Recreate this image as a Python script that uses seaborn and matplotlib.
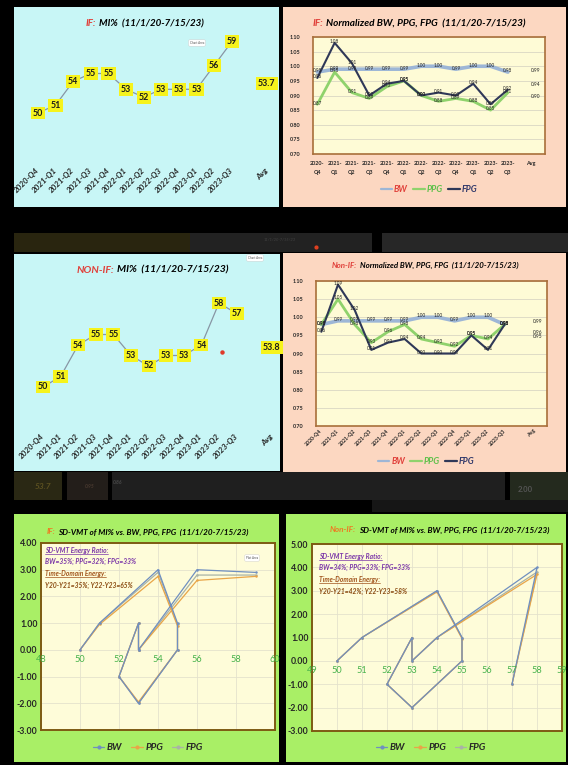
import numpy as np
import matplotlib
matplotlib.use('Agg')
import matplotlib.pyplot as plt
import seaborn as sns
from matplotlib.patches import Rectangle
from matplotlib.lines import Line2D

# ---------------- data ----------------
quarters = ['2020-Q4', '2021-Q1', '2021-Q2', '2021-Q3', '2021-Q4', '2022-Q1',
            '2022-Q2', '2022-Q3', '2022-Q4', '2023-Q1', '2023-Q2', '2023-Q3']
quarters_2line = [q.replace('-', '-\n') for q in quarters]

if_mi = [50, 51, 54, 55, 55, 53, 52, 53, 53, 53, 56, 59]
if_mi_avg = 53.7
nonif_mi = [50, 51, 54, 55, 55, 53, 52, 53, 53, 54, 58, 57]
nonif_mi_avg = 53.8

if_bw = [0.98, 0.99, 0.99, 0.99, 0.99, 0.99, 1.00, 1.00, 0.99, 1.00, 1.00, 0.98]
if_ppg = [0.87, 0.98, 0.91, 0.89, 0.93, 0.95, 0.90, 0.88, 0.89, 0.88, 0.85, 0.91]
if_fpg = [0.96, 1.08, 1.01, 0.90, 0.94, 0.95, 0.90, 0.91, 0.90, 0.94, 0.87, 0.92]
if_avg = [0.99, 0.90, 0.94]          # BW, PPG, FPG

nonif_bw = [0.98, 0.99, 0.99, 0.99, 0.99, 0.99, 1.00, 1.00, 0.99, 1.00, 1.00, 0.98]
nonif_ppg = [0.98, 1.05, 0.98, 0.93, 0.96, 0.98, 0.94, 0.93, 0.92, 0.95, 0.94, 0.98]
nonif_fpg = [0.96, 1.09, 1.02, 0.91, 0.93, 0.94, 0.90, 0.90, 0.90, 0.95, 0.91, 0.98]
nonif_avg = [0.99, 0.96, 0.95]

if_sd_bw = [0, 1, 3.0, 1.0, 0, -2, -1, 1, 0, 0, 3.0, 2.9]
if_sd_ppg = [0, 0.95, 2.75, 0.9, 0, -1.95, -1, 1, 0, 0, 2.6, 2.75]
if_sd_fpg = [0, 1, 2.9, 0.95, 0, -2, -1, 1, 0, 0, 2.8, 2.8]

nonif_sd_bw = [0, 1, 3.0, 1.0, 0, -2, -1, 1, 0, 1, 4.0, -1]
nonif_sd_ppg = [0, 1, 2.95, 0.95, 0, -2, -1, 1, 0, 1, 3.7, -1]
nonif_sd_fpg = [0, 1, 3.0, 1.0, 0, -2, -1, 1, 0, 1, 3.8, -1]

if_energy = ['BW=35%; PPG=32%; FPG=33%', 'Y20-Y21=35%; Y22-Y23=65%']
nonif_energy = ['BW=34%; PPG=33%; FPG=33%', 'Y20-Y21=42%; Y22-Y23=58%']

# ---------------- setup ----------------
sns.set_style('white')
FONT = ['Lato', 'DejaVu Sans']
plt.rcParams['font.family'] = FONT

W, H = 568, 765
fig = plt.figure(figsize=(W / 100, H / 100), dpi=100)
fig.patch.set_facecolor('black')


def fx(x):
    return x / W


def fy(y):
    return 1 - y / H


def axpx(x0, y0, x1, y1):
    return fig.add_axes([x0 / W, 1 - y1 / H, (x1 - x0) / W, (y1 - y0) / H])


def rect(x0, y0, x1, y1, color, z=-5):
    fig.add_artist(Rectangle((fx(x0), fy(y1)), (x1 - x0) / W, (y1 - y0) / H,
                             transform=fig.transFigure, facecolor=color,
                             edgecolor='none', zorder=z))


def ftext(x, y, s, **kw):
    kw.setdefault('fontweight', 'bold')
    kw.setdefault('fontstyle', 'italic')
    return fig.text(fx(x), fy(y), s, **kw)


CYAN = '#c8f6f6'
PEACH = '#fcd7c1'
GREEN = '#a9ef66'
CREAM = '#fefbd6'
RED = '#e0403a'
ORANGE = '#ee7a22'

# dark spreadsheet strips between panels
rect(14, 233, 190, 252, '#29250f')
rect(190, 233, 372, 252, '#222222')
rect(382, 233, 568, 252, '#272727')
rect(14, 472, 62, 500, '#2a2814')
rect(67, 472, 108, 500, '#231e1a')
rect(112, 472, 505, 500, '#1f1f1f')
rect(510, 472, 568, 500, '#242a1e')
rect(372, 500, 568, 512, '#161616')
ftext(43, 487, '53.7', color='#5b5020', fontsize=6, ha='center', va='center')
ftext(90, 487, '0.95', color='#4a3a30', fontsize=3.5, ha='center', va='center')
ftext(118, 482, '0.86', color='#4a4a4a', fontsize=3.5, ha='center', va='center')
ftext(525, 490, '2.00', color='#555555', fontsize=5.5, ha='center', va='center',
      fontstyle='normal')
ftext(280, 240, '11/1/20-7/15/23', color='#3a3a3a', fontsize=3, ha='center', va='center')
fig.add_artist(Line2D([fx(316)], [fy(247)], marker='o', markersize=2,
                      color='#e04020', transform=fig.transFigure))

# panel backgrounds
rect(14, 7, 279, 207, CYAN)
rect(283, 7, 566, 207, PEACH)
rect(14, 254, 280, 471, CYAN)
rect(283, 253, 566, 472, PEACH)
rect(14, 514, 279, 762, GREEN)
rect(286, 514, 566, 762, GREEN)


def title(xsplit, y, head, rest, headcolor, size):
    ftext(xsplit, y, head, color=headcolor, ha='right', va='center', fontsize=size)
    ftext(xsplit + 3, y, rest, color='black', ha='left', va='center', fontsize=size)


title(96, 24, 'IF:', 'MI%  (11/1/20-7/15/23)', RED, 7.0)
title(323, 24, 'IF:', 'Normalized BW, PPG, FPG  (11/1/20-7/15/23)', RED, 7.2)
title(114, 270, 'NON-IF:', 'MI%  (11/1/20-7/15/23)', RED, 7.5)
title(357, 265, 'Non-IF:', 'Normalized BW, PPG, FPG  (11/1/20-7/15/23)', RED, 5.7)
title(55, 532, 'IF:', 'SD-VMT of MI% vs. BW, PPG, FPG  (11/1/20-7/15/23)', ORANGE, 5.9)
title(356, 530, 'Non-IF:', 'SD-VMT of MI% vs. BW, PPG, FPG  (11/1/20-7/15/23)', ORANGE, 5.9)

# "Chart Area"/"Plot Area" tooltips
for (x, y, s) in [(197, 43, 'Chart Area'), (255, 258, 'Chart Area'), (252, 558, 'Plot Area')]:
    fig.text(fx(x), fy(y), s, fontsize=2.2, color='#555555', ha='center', va='center',
             fontstyle='normal', fontweight='normal',
             bbox=dict(boxstyle='round,pad=0.4', fc='white', ec='#cccccc', lw=0.3))

YELLOW = dict(boxstyle='square,pad=0.22', fc='#f6f31c', ec='none')


# ---------------- MI% charts ----------------
def mi_chart(ax, values, avg, xlim, ylim):
    ax.patch.set_alpha(0)
    pos = np.arange(len(values))
    sns.lineplot(x=pos, y=values, ax=ax, color='#8896a4', linewidth=0.9,
                 sort=False, estimator=None)
    for p, v in zip(pos, values):
        ax.text(p, v, str(v), ha='center', va='center', fontsize=6.4,
                fontweight='bold', color='#1a1a1a', bbox=YELLOW, zorder=5)
    avg_pos = len(values) + 1
    ax.text(avg_pos, avg, f'{avg:.1f}', ha='center', va='center', fontsize=6.4,
            fontweight='bold', color='#1a1a1a', bbox=YELLOW, zorder=5)
    ax.set_xticks(list(pos) + [avg_pos])
    ax.set_xticklabels(quarters + ['Avg'], rotation=45, ha='right',
                       rotation_mode='anchor', va='center', fontsize=5.8,
                       fontstyle='italic', fontweight='bold')
    ax.set_yticks([])
    ax.tick_params(axis='x', length=0, pad=2)
    for s in ax.spines.values():
        s.set_visible(False)
    ax.set_xlim(*xlim)
    ax.set_ylim(*ylim)
    ax.set_xlabel('')
    ax.set_ylabel('')


ax1 = axpx(14, 7, 279, 166)
mi_chart(ax1, if_mi, if_mi_avg, (-1.364, 13.69), (43.29, 63.42))

ax3 = axpx(14, 254, 280, 432)
mi_chart(ax3, nonif_mi, nonif_mi_avg, (-1.648, 13.466), (45.714, 62.667))
# stray red marker visible in the reference
ax3.plot([10.17], [53.3], marker='o', markersize=2.2, color='#e03a2a', lw=0)

# ---------------- normalized charts ----------------
BWC, PPGC, FPGC = '#9db6d6', '#8fd26c', '#2f3858'


def norm_chart(ax, bw, ppg, fpg, avgs, avg_tick, avg_lab, xlim, rotated, ypad):
    ax.set_facecolor(CREAM)
    pos = np.arange(len(bw))
    sns.lineplot(x=pos, y=bw, ax=ax, color=BWC, linewidth=2.6, sort=False, estimator=None)
    sns.lineplot(x=pos, y=ppg, ax=ax, color=PPGC, linewidth=2.0, sort=False, estimator=None)
    sns.lineplot(x=pos, y=fpg, ax=ax, color=FPGC, linewidth=1.5, sort=False, estimator=None)
    for series in (bw, ppg, fpg):
        for p, v in zip(pos, series):
            ax.text(p, v + 0.004, f'{v:.2f}', fontsize=3.3, ha='center', va='center',
                    color='#222222', zorder=6)
    for v in avgs:
        ax.text(avg_lab, v - 0.003, f'{v:.2f}', fontsize=3.5, ha='center', va='center',
                color='#222222')
    ax.set_ylim(0.70, 1.10)
    ax.set_yticks(np.arange(0.70, 1.101, 0.05))
    ax.set_yticklabels([f'{t:.2f}' for t in np.arange(0.70, 1.101, 0.05)],
                       fontsize=3.9, fontweight='bold')
    ax.set_xticks(list(pos) + [avg_tick])
    if rotated:
        ax.set_xticklabels(quarters + ['Avg'], rotation=45, ha='right',
                           rotation_mode='anchor', va='center', fontsize=3.8,
                           fontweight='bold')
        ax.tick_params(axis='x', length=0, pad=3)
    else:
        ax.set_xticklabels(quarters_2line + ['Avg'], fontsize=3.9, fontweight='bold',
                           linespacing=1.9)
        ax.tick_params(axis='x', length=0, pad=5)
    ax.tick_params(axis='y', length=0, pad=ypad)
    ax.grid(axis='y', color='#d9d6c4', linewidth=0.6)
    ax.grid(axis='x', visible=False)
    for s in ax.spines.values():
        s.set_color('#a86f3a')
        s.set_linewidth(1.2)
    ax.set_xlim(*xlim)
    ax.set_xlabel('')
    ax.set_ylabel('')


def norm_legend(ax, xc, yc):
    handles = [Line2D([], [], color=BWC, lw=1.6), Line2D([], [], color=PPGC, lw=1.6),
               Line2D([], [], color=FPGC, lw=1.6)]
    leg = ax.legend(handles, ['BW', 'PPG', 'FPG'], loc='center', ncol=3,
                    bbox_to_anchor=(fx(xc), fy(yc)), bbox_transform=fig.transFigure,
                    frameon=False, handlelength=1.3, handletextpad=0.25,
                    columnspacing=0.6, prop=dict(family=FONT, style='italic',
                                                 weight='bold', size=6.3))
    for t, c in zip(leg.get_texts(), [RED, '#5fc04a', '#30386a']):
        t.set_color(c)


ax2 = axpx(313, 37, 545, 154)
norm_chart(ax2, if_bw, if_ppg, if_fpg, if_avg, 12.3, 12.6, (-0.25, 13.14), False, 9)
norm_legend(ax2, 429, 190)

ax4 = axpx(316, 281, 547, 426)
norm_chart(ax4, nonif_bw, nonif_ppg, nonif_fpg, nonif_avg, 12.8, 13.0, (-0.32, 13.54),
           True, 9)
norm_legend(ax4, 426, 462)

# ---------------- SD-VMT phase charts ----------------
SBW, SPPG, SFPG = '#6f8fc0', '#e8a548', '#a9b3a6'


def sd_chart(ax, mi, bw, ppg, fpg, xlim, ylim, xticks):
    ax.set_facecolor('#fefcd9')
    for series, c in ((fpg, SFPG), (ppg, SPPG), (bw, SBW)):
        sns.lineplot(x=mi, y=series, ax=ax, color=c, linewidth=0.9, sort=False,
                     estimator=None, marker='o', markersize=1.8, markeredgewidth=0)
    ax.set_xlim(*xlim)
    ax.set_ylim(*ylim)
    yt = np.arange(ylim[0], ylim[1] + 0.01, 1.0)
    ax.set_yticks(yt)
    ax.set_yticklabels([f'{v:.2f}' for v in yt], fontsize=6.3, fontweight='bold')
    ax.set_xticks(xticks)
    ax.tick_params(axis='x', labelbottom=False, length=0)
    ax.tick_params(axis='y', length=0, pad=2.5)
    for t in xticks:
        ax.annotate(str(t), (t, 0), xytext=(0, -4), textcoords='offset points',
                    ha='center', va='top', fontsize=6.6, color='#45b24a')
    ax.grid(True, color='#e4e2cc', linewidth=0.6)
    for s in ax.spines.values():
        s.set_color('#7d5a12')
        s.set_linewidth(1.4)
    ax.set_xlabel('')
    ax.set_ylabel('')


def sd_legend(ax, xc, yc):
    handles = [Line2D([], [], color=c, lw=0.9, marker='o', markersize=2)
               for c in (SBW, SPPG, SFPG)]
    ax.legend(handles, ['BW', 'PPG', 'FPG'], loc='center', ncol=3,
              bbox_to_anchor=(fx(xc), fy(yc)), bbox_transform=fig.transFigure,
              frameon=False, handlelength=1.2, handletextpad=0.25, columnspacing=0.9,
              prop=dict(family=FONT, style='italic', weight='bold', size=7))


def energy_text(x, y0, lines):
    fig.canvas.draw()
    specs = [('SD-VMT Energy Ratio:', '#7a35a8', True), (lines[0], '#7a35a8', False),
             ('Time-Domain Energy:', '#a0521a', True), (lines[1], '#8a4a10', False)]
    r = fig.canvas.get_renderer()
    for i, (s, c, ul) in enumerate(specs):
        t = ftext(x, y0 + i * 11.8, s, color=c, fontsize=4.8, ha='left', va='center')
        if ul:
            bb = t.get_window_extent(renderer=r)
            yb = bb.y0 - 0.3
            fig.add_artist(Line2D([bb.x0 / W, bb.x1 / W], [yb / H, yb / H],
                                  color=c, lw=0.5, transform=fig.transFigure))


ax5 = axpx(41, 543, 275, 730)
sd_chart(ax5, if_mi, if_sd_bw, if_sd_ppg, if_sd_fpg, (48, 60), (-3, 4),
         list(range(48, 61, 2)))
sd_legend(ax5, 148, 748)

ax6 = axpx(312, 544, 562, 731)
sd_chart(ax6, nonif_mi, nonif_sd_bw, nonif_sd_ppg, nonif_sd_fpg, (49, 59), (-3, 5),
         list(range(49, 60)))
sd_legend(ax6, 431, 748)

energy_text(45, 550, if_energy)
energy_text(319, 556, nonif_energy)

fig.savefig('out.png', dpi=100, facecolor='black')
